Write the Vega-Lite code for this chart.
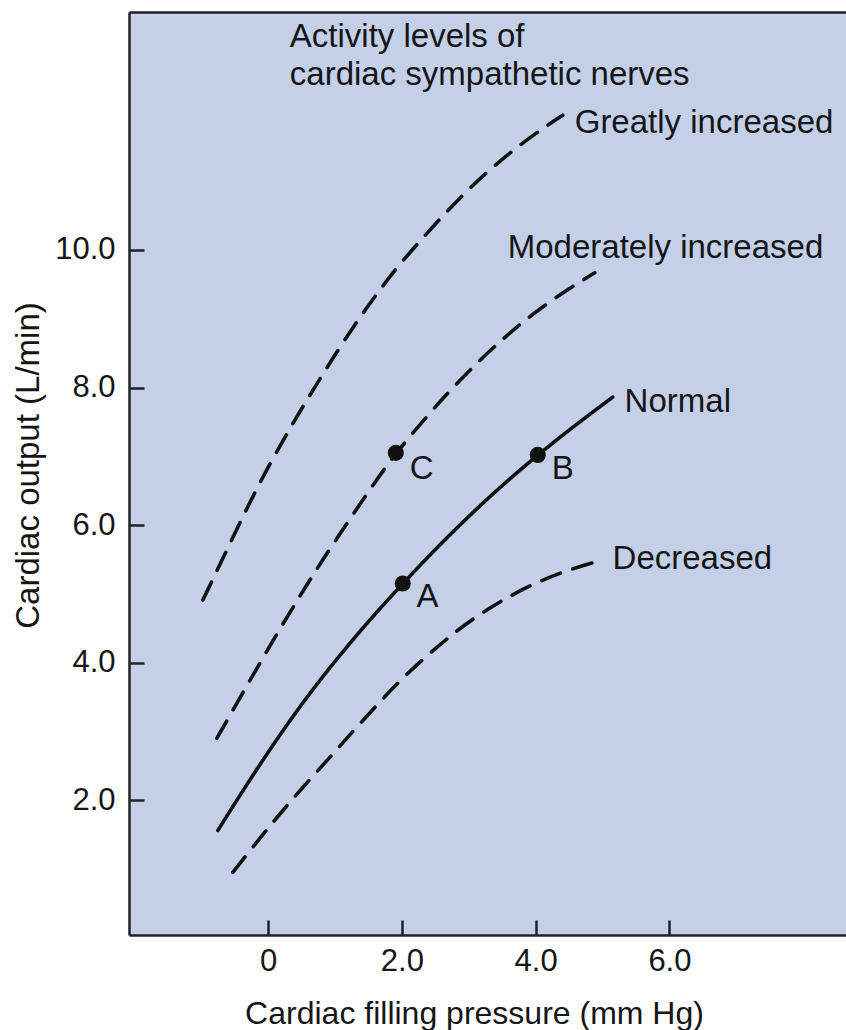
{
  "$schema": "https://vega.github.io/schema/vega-lite/v6.json",
  "width": 717,
  "height": 923,
  "autosize": {"type": "none"},
  "padding": {"left": 129, "top": 12, "right": 0, "bottom": 95},
  "background": "white",
  "config": {
    "font": "Liberation Sans",
    "view": {"fill": "#c4d0e8", "stroke": null},
    "axis": {
      "grid": false,
      "domainColor": "#222222",
      "domainWidth": 2.5,
      "tickColor": "#222222",
      "tickWidth": 2.5,
      "tickSize": -15,
      "labelFont": "Liberation Sans",
      "labelFontSize": 31,
      "labelColor": "#151515",
      "titleFont": "Liberation Sans",
      "titleFontSize": 32,
      "titleFontWeight": "normal",
      "titleColor": "#151515"
    }
  },
  "datasets": {
    "curves": [
      {"series": "Greatly increased", "p": -0.976, "co": 4.91},
      {"series": "Greatly increased", "p": -0.571, "co": 5.73},
      {"series": "Greatly increased", "p": -0.168, "co": 6.55},
      {"series": "Greatly increased", "p": 0.324, "co": 7.41},
      {"series": "Greatly increased", "p": 0.669, "co": 7.96},
      {"series": "Greatly increased", "p": 1.072, "co": 8.59},
      {"series": "Greatly increased", "p": 1.476, "co": 9.17},
      {"series": "Greatly increased", "p": 1.924, "co": 9.75},
      {"series": "Greatly increased", "p": 2.417, "co": 10.29},
      {"series": "Greatly increased", "p": 2.911, "co": 10.81},
      {"series": "Greatly increased", "p": 3.419, "co": 11.26},
      {"series": "Greatly increased", "p": 3.912, "co": 11.64},
      {"series": "Greatly increased", "p": 4.405, "co": 11.96},
      {"series": "Moderately increased", "p": -0.767, "co": 2.9},
      {"series": "Moderately increased", "p": -0.378, "co": 3.56},
      {"series": "Moderately increased", "p": -0.079, "co": 4.07},
      {"series": "Moderately increased", "p": 0.22, "co": 4.56},
      {"series": "Moderately increased", "p": 0.519, "co": 5.04},
      {"series": "Moderately increased", "p": 0.818, "co": 5.5},
      {"series": "Moderately increased", "p": 1.176, "co": 6.02},
      {"series": "Moderately increased", "p": 1.521, "co": 6.52},
      {"series": "Moderately increased", "p": 1.909, "co": 7.05},
      {"series": "Moderately increased", "p": 2.418, "co": 7.63},
      {"series": "Moderately increased", "p": 2.761, "co": 8.0},
      {"series": "Moderately increased", "p": 3.165, "co": 8.4},
      {"series": "Moderately increased", "p": 3.569, "co": 8.76},
      {"series": "Moderately increased", "p": 3.957, "co": 9.07},
      {"series": "Moderately increased", "p": 4.405, "co": 9.38},
      {"series": "Moderately increased", "p": 4.884, "co": 9.67},
      {"series": "Normal", "p": -0.752, "co": 1.56},
      {"series": "Normal", "p": -0.3, "co": 2.26},
      {"series": "Normal", "p": 0.2, "co": 2.99},
      {"series": "Normal", "p": 0.7, "co": 3.66},
      {"series": "Normal", "p": 1.2, "co": 4.26},
      {"series": "Normal", "p": 1.6, "co": 4.71},
      {"series": "Normal", "p": 2.013, "co": 5.15},
      {"series": "Normal", "p": 2.5, "co": 5.65},
      {"series": "Normal", "p": 3.0, "co": 6.13},
      {"series": "Normal", "p": 3.5, "co": 6.58},
      {"series": "Normal", "p": 4.031, "co": 7.02},
      {"series": "Normal", "p": 4.6, "co": 7.46},
      {"series": "Normal", "p": 5.152, "co": 7.86},
      {"series": "Decreased", "p": -0.528, "co": 0.95},
      {"series": "Decreased", "p": -0.229, "co": 1.32},
      {"series": "Decreased", "p": 0.13, "co": 1.75},
      {"series": "Decreased", "p": 0.519, "co": 2.19},
      {"series": "Decreased", "p": 0.922, "co": 2.62},
      {"series": "Decreased", "p": 1.266, "co": 3.0},
      {"series": "Decreased", "p": 1.625, "co": 3.38},
      {"series": "Decreased", "p": 1.969, "co": 3.74},
      {"series": "Decreased", "p": 2.372, "co": 4.1},
      {"series": "Decreased", "p": 2.761, "co": 4.42},
      {"series": "Decreased", "p": 3.165, "co": 4.71},
      {"series": "Decreased", "p": 3.613, "co": 4.97},
      {"series": "Decreased", "p": 4.061, "co": 5.19},
      {"series": "Decreased", "p": 4.554, "co": 5.37},
      {"series": "Decreased", "p": 4.988, "co": 5.49}
    ],
    "points": [
      {"name": "A", "p": 2.013, "co": 5.15},
      {"name": "B", "p": 4.031, "co": 7.02},
      {"name": "C", "p": 1.909, "co": 7.05}
    ],
    "labels": [
      {"text": "Activity levels of", "p": 0.324, "co": 12.95},
      {"text": "cardiac sympathetic nerves", "p": 0.324, "co": 12.4},
      {"text": "Greatly increased", "p": 4.584, "co": 11.7},
      {"text": "Moderately increased", "p": 3.583, "co": 9.88},
      {"text": "Normal", "p": 5.33, "co": 7.64},
      {"text": "Decreased", "p": 5.15, "co": 5.36},
      {"text": "C", "p": 2.119, "co": 6.67},
      {"text": "B", "p": 4.24, "co": 6.67},
      {"text": "A", "p": 2.22, "co": 4.81}
    ]
  },
  "layer": [
    {
      "data": {"name": "curves"},
      "mark": {"type": "line", "color": "#111111", "strokeWidth": 3.6, "strokeCap": "round", "interpolate": "basis"},
      "encoding": {
        "x": {
          "field": "p", "type": "quantitative",
          "scale": {"domain": [-2.08, 8.64], "nice": false, "zero": false},
          "axis": {
            "orient": "bottom",
            "values": [0, 2, 4, 6],
            "labelExpr": "datum.value == 0 ? '0' : format(datum.value, '.1f')",
            "labelPadding": 26,
            "title": "Cardiac filling pressure (mm Hg)",
            "titleX": 345,
            "titleY": 88,
            "titleAlign": "center",
            "titleBaseline": "alphabetic"
          }
        },
        "y": {
          "field": "co", "type": "quantitative",
          "scale": {"domain": [0.04, 13.46], "nice": false, "zero": false},
          "axis": {
            "values": [2, 4, 6, 8, 10],
            "format": ".1f",
            "labelPadding": 29,
            "title": "Cardiac output (L/min)",
            "titleFontSize": 33,
            "titleAngle": -90,
            "titleX": -91,
            "titleY": 453,
            "titleAlign": "center",
            "titleBaseline": "alphabetic"
          }
        },
        "detail": {"field": "series"},
        "strokeDash": {
          "field": "series", "type": "nominal",
          "scale": {
            "domain": ["Greatly increased", "Moderately increased", "Normal", "Decreased"],
            "range": [[20, 13], [20, 13], [1, 0], [20, 13]]
          },
          "legend": null
        }
      }
    },
    {
      "data": {"name": "points"},
      "mark": {"type": "circle", "size": 260, "color": "#111111", "opacity": 1},
      "encoding": {
        "x": {
          "field": "p", "type": "quantitative",
          "axis": {"orient": "top", "labels": false, "ticks": false, "title": null, "domain": true}
        },
        "y": {"field": "co", "type": "quantitative"}
      }
    },
    {
      "data": {"name": "labels"},
      "mark": {"type": "text", "align": "left", "baseline": "alphabetic", "fontSize": 33, "font": "Liberation Sans", "color": "#151515"},
      "encoding": {
        "x": {"field": "p", "type": "quantitative", "axis": null},
        "y": {"field": "co", "type": "quantitative"},
        "text": {"field": "text"}
      }
    }
  ]
}
